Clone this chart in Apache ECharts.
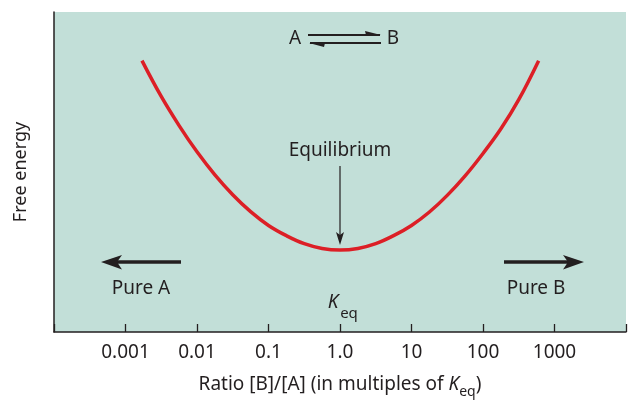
<!DOCTYPE html>
<html>
<head>
<meta charset="utf-8">
<script src="https://cdn.jsdelivr.net/npm/echarts@6/dist/echarts.min.js"></script>
<style>
html,body{margin:0;padding:0;background:#fff;}
#chart{width:629px;height:404px;}
</style>
</head>
<body>
<div id="chart"></div>
<script>
// Ratio [B]/[A] (multiples of Keq) and free energy (arbitrary units)
const ratios = [0.0017, 0.00316, 0.00562, 0.01, 0.0178, 0.0316, 0.0562, 0.1, 0.178, 0.316, 0.562,
                1.0, 1.78, 3.16, 5.62, 10, 17.8, 31.6, 56.2, 100, 178, 316, 600];
const freeEnergy = [84.8, 73.6, 64.5, 56.3, 49.1, 42.9, 37.6, 33.3, 30.1, 27.6, 26.1,
                    25.6, 26.1, 27.6, 30.1, 33.3, 37.5, 42.7, 48.8, 55.8, 63.5, 72.6, 84.8];
const tickValues = [0.001, 0.01, 0.1, 1, 10, 100, 1000];
const tickLabels = ['0.001', '0.01', '0.1', '1.0', '10', '100', '1000'];

const FONT = 'Noto Sans';
const INK = '#231f20';
const FS = 19;

const chart = echarts.init(document.getElementById('chart'), null, {renderer: 'canvas'});

const option = {
  backgroundColor: '#ffffff',
  animation: false,
  textStyle: {fontFamily: FONT, color: INK},
  grid: {left: 54, right: 0, top: 12, bottom: 71, show: true, backgroundColor: '#c2dfd8', borderWidth: 0},
  xAxis: {
    type: 'log', logBase: 10, min: 1e-4, max: 1e4, interval: 1,
    axisLine: {show: true, lineStyle: {color: INK, width: 1.5}},
    axisTick: {show: true, inside: true, length: 8, lineStyle: {color: INK, width: 1.3}},
    splitLine: {show: false},
    axisLabel: {
      fontFamily: FONT, fontSize: FS, color: INK, margin: 11,
      formatter: function (v) {
        for (let i = 0; i < tickValues.length; i++) {
          if (Math.abs(Math.log10(v) - Math.log10(tickValues[i])) < 1e-6) return tickLabels[i];
        }
        return '';
      }
    },
    name: '{t|Ratio [B]/[A] (in multiples of }{k|K}{s|eq}{t|)}',
    nameLocation: 'middle', nameGap: 43,
    nameTextStyle: {
      rich: {
        t: {fontFamily: FONT, fontSize: FS, color: INK, verticalAlign: 'top', lineHeight: 22},
        k: {fontFamily: FONT, fontSize: FS, color: INK, fontStyle: 'italic', verticalAlign: 'top', lineHeight: 22},
        s: {fontFamily: FONT, fontSize: 14, color: INK, verticalAlign: 'top', lineHeight: 17, padding: [10, 0, 0, 0]}
      }
    }
  },
  yAxis: {
    type: 'value', min: 0, max: 100,
    axisLine: {show: true, lineStyle: {color: INK, width: 1.5}},
    axisTick: {show: false}, axisLabel: {show: false}, splitLine: {show: false},
    name: 'Free energy', nameLocation: 'middle', nameGap: 24,
    nameTextStyle: {fontFamily: FONT, fontSize: 18, color: INK}
  },
  series: [{
    type: 'line', smooth: 0.4, showSymbol: false,
    data: ratios.map((r, i) => [r, freeEnergy[i]]),
    lineStyle: {color: '#dc1f26', width: 3.5},
    z: 3
  }],
  graphic: []
};

chart.setOption(option);

// annotations
const g = [];
function txt(x, y, s, size, extra) {
  g.push(Object.assign({type: 'text', x: x, y: y, z: 10,
    style: Object.assign({text: s, font: (size || FS) + 'px "' + FONT + '"', fill: INK, textAlign: 'center', textVerticalAlign: 'middle'}, extra && extra.style || {})
  }, extra && extra.props || {}));
}
function line(x1, y1, x2, y2, w) {
  g.push({type: 'line', z: 10, shape: {x1: x1, y1: y1, x2: x2, y2: y2}, style: {stroke: INK, lineWidth: w || 1.5}});
}
function poly(pts) {
  g.push({type: 'polygon', z: 10, shape: {points: pts}, style: {fill: INK}});
}

// A <=> B
txt(295, 39, 'A', FS);
txt(393, 39, 'B', FS);
line(308, 35, 380, 35, 2);
poly([[365, 31], [381, 35], [366, 35]]);
line(310, 43, 381, 43, 2);
poly([[309, 43], [324, 47], [325, 43]]);

// Equilibrium
const eqPx = chart.convertToPixel({gridIndex: 0}, [1, 25.6]);
txt(eqPx[0], 151, 'Equilibrium', FS);
line(eqPx[0], 166, eqPx[0], 236, 1.2);
poly([[eqPx[0], 245], [eqPx[0] - 4, 232], [eqPx[0], 235], [eqPx[0] + 4, 232]]);

// Pure A
line(181, 262, 115, 262, 3.6);
poly([[101, 262], [122, 255], [117, 262], [122, 269.5]]);
txt(141, 289, 'Pure A', FS);

// Pure B
line(504, 262, 570, 262, 3.6);
poly([[584, 262], [563, 255], [568, 262], [563, 269.5]]);
txt(536, 289, 'Pure B', FS);

// Keq
txt(333, 303, 'K', 19, {style: {font: 'italic 19px "' + FONT + '"'}});
txt(349, 314, 'eq', 15);

chart.setOption({graphic: g});
</script>
</body>
</html>
